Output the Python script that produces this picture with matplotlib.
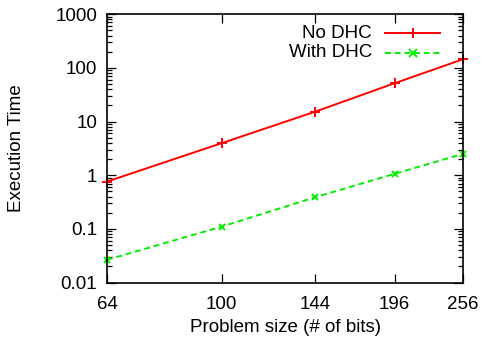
import matplotlib
matplotlib.use('Agg')
import matplotlib.pyplot as plt
from matplotlib.ticker import FixedLocator, NullLocator, LogLocator, NullFormatter

plt.rcParams['font.family'] = ['Liberation Sans', 'DejaVu Sans']

# problem size in bits
bits = [64, 100, 144, 196, 256]
no_dhc = [0.76, 3.95, 15.3, 51.6, 145]
with_dhc = [0.0265, 0.110, 0.389, 1.06, 2.5]
ytick_vals = [0.01, 0.1, 1, 10, 100, 1000]
ytick_labels = ['0.01', '0.1', '1', '10', '100', '1000']

fig = plt.figure(figsize=(4.84, 3.45), dpi=100)
ax = fig.add_axes([0.221, 0.181, 0.736, 0.778])

red = '#ff0000'
green = '#00ee00'
fs = 13.5
dash = (0, (3, 2))

ax.plot(bits, no_dhc, color=red, lw=1.4, marker='+', ms=7, mew=1.4, clip_on=False)
ax.plot(bits, with_dhc, color=green, lw=1.4, ls=dash, marker='x', ms=5,
        mew=1.4, clip_on=False)

ax.set_xscale('log')
ax.set_yscale('log')
ax.set_xlim(64, 256)
ax.set_ylim(0.01, 1000)

ax.xaxis.set_major_locator(FixedLocator(bits))
ax.xaxis.set_minor_locator(NullLocator())
ax.set_xticklabels([str(b) for b in bits])
ax.yaxis.set_major_locator(FixedLocator(ytick_vals))
ax.set_yticklabels(ytick_labels)
ax.yaxis.set_minor_locator(LogLocator(base=10, subs=range(2, 10)))
ax.yaxis.set_minor_formatter(NullFormatter())

ax.tick_params(which='both', direction='in', top=True, right=True, width=0.9,
               labelsize=fs)
ax.tick_params(which='major', length=6.5)
ax.tick_params(which='minor', length=3.5)
ax.tick_params(axis='x', pad=10)
ax.tick_params(axis='y', pad=7)
for s in ax.spines.values():
    s.set_linewidth(1.2)

ax.set_xlabel('Problem size (# of bits)', fontsize=fs, labelpad=4)
ax.set_ylabel('Execution Time', fontsize=fs, labelpad=22)

# gnuplot-style key: text right aligned, sample to the right
keys = [('No DHC', red, '-', '+', 7), ('With DHC', green, dash, 'x', 5.5)]
for i, (lab, c, ls, mk, ms) in enumerate(keys):
    y = 0.928 - i * 0.071
    ax.text(0.744, y, lab, transform=ax.transAxes, ha='right', va='center', fontsize=fs)
    ax.plot([0.781, 0.935], [y, y], transform=ax.transAxes, color=c, lw=1.4, ls=ls)
    ax.plot([0.858], [y], transform=ax.transAxes, color=c, marker=mk, ms=ms, mew=1.4)

fig.savefig('out.png', dpi=100)
